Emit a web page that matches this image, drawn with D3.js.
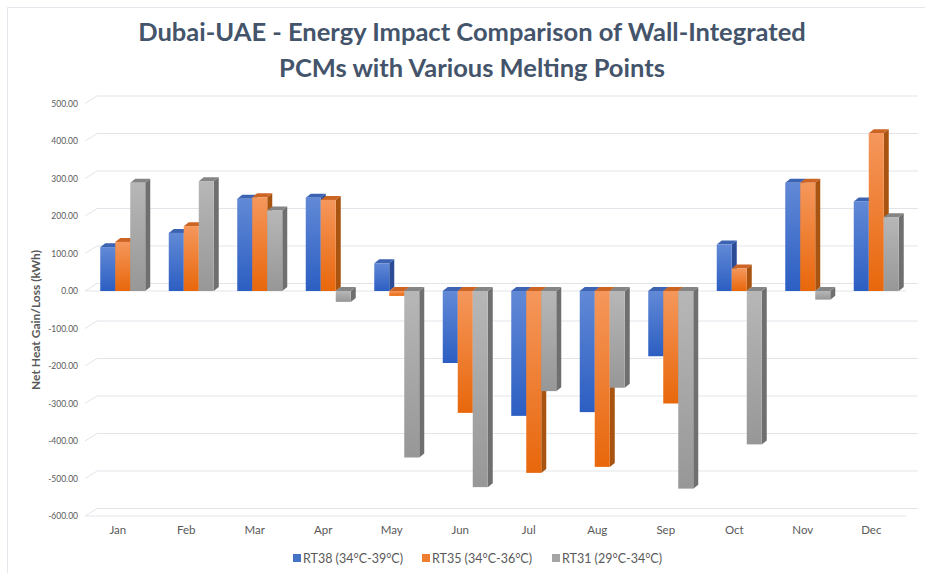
<!DOCTYPE html>
<html>
<head>
  <meta charset="utf-8">
  <script src="https://d3js.org/d3.v7.min.js"></script>
  <style>
    body { margin: 0; background: #fff; }
    svg { display: block; font-family: Lato, "Open Sans", sans-serif; }
    .tick text { fill: #595959; }
  </style>
</head>
<body>
  <svg id="chart" width="925" height="573"></svg>
  <script>
    // 数据
    var months = ["Jan", "Feb", "Mar", "Apr", "May", "Jun", "Jul", "Aug", "Sep", "Oct", "Nov", "Dec"];
    var seriesNames = ["RT38 (34°C-39°C)", "RT35 (34°C-36°C)", "RT31 (29°C-34°C)"];
    var rt38 = [117, 155, 246, 249, 74, -192, -333, -323, -174, 124, 289, 239];
    var rt35 = [131, 173, 250, 243, -13, -325, -485, -469, -300, 60, 289, 421];
    var rt31 = [289, 293, 215, -29, -444, -523, -267, -258, -527, -409, -23, 197];
    var yTicks = [500, 400, 300, 200, 100, 0, -100, -200, -300, -400, -500, -600];

    var series = [rt38, rt35, rt31];
    // 颜色: 正面渐变(上,下), 顶面, 侧面, 图例
    var colors = [
      { top: "#6189d6", bottom: "#2c5ec2", cap: "#3d63b3", side: "#2b4b96", key: "#4472c4" },
      { top: "#f5975c", bottom: "#e8670b", cap: "#cc6524", side: "#a8530f", key: "#ed7d31" },
      { top: "#b7b7b7", bottom: "#979797", cap: "#858585", side: "#6f6f6f", key: "#a5a5a5" }
    ];

    var svg = d3.select("#chart");

    // 外框
    svg.append("path")
      .attr("d", "M7.5,573 V7.5 H925")
      .attr("fill", "none")
      .attr("stroke", "#e3e7eb");

    // 标题
    var title = svg.append("text")
      .attr("text-anchor", "middle")
      .attr("fill", "#44546a")
      .style("font-size", "25.5px")
      .style("font-weight", "bold");
    title.append("tspan").attr("x", 472).attr("y", 41).text("Dubai-UAE - Energy Impact Comparison of Wall-Integrated");
    title.append("tspan").attr("x", 472).attr("y", 77).text("PCMs with Various Melting Points");

    // 比例尺
    var x = d3.scaleBand().domain(months).range([83.5, 905.5]).padding(0);
    var y = d3.scaleLinear().domain([-600, 500]).range([516, 103.5]);

    var backDx = 12, backDy = -7.5;   // 背墙偏移
    var depthDx = 5, depthDy = -4;    // 柱子厚度
    var barW = 15;

    // 网格线
    var grid = svg.append("g").attr("stroke", "#e1e5ea").attr("fill", "none");
    grid.selectAll("path.gl")
      .data(yTicks)
      .enter()
      .append("path")
      .attr("class", "gl")
      .attr("d", function (d) {
        var yy = y(d);
        return "M85," + yy + " L" + (85 + backDx) + "," + (yy + backDy) + " H918";
      });
    // 地板前沿 (0 和 -600)
    [0, -600].forEach(function (v) {
      grid.append("path").attr("d", "M85," + y(v) + " H906");
    });

    // y 轴标签
    var yAxis = svg.append("g")
      .attr("transform", "translate(78,0)")
      .call(d3.axisLeft(y).tickValues(yTicks).tickSize(0).tickPadding(0)
        .tickFormat(function (d) { return d.toFixed(2); }));
    yAxis.select(".domain").remove();
    yAxis.selectAll("text").style("font-size", "8.5px").style("font-family", "Lato, sans-serif");

    // x 轴标签
    var xAxis = svg.append("g")
      .attr("transform", "translate(0,526)")
      .call(d3.axisBottom(x).tickSize(0).tickPadding(0));
    xAxis.select(".domain").remove();
    xAxis.selectAll("text").style("font-size", "11.5px").style("font-family", "Lato, sans-serif");

    // y 轴标题
    svg.append("text")
      .attr("transform", "translate(40,320) rotate(-90)")
      .attr("text-anchor", "middle")
      .attr("fill", "#595959")
      .style("font-size", "12px")
      .style("font-weight", "bold")
      .text("Net Heat Gain/Loss (kWh)");

    // 渐变
    var defs = svg.append("defs");
    colors.forEach(function (c, i) {
      var g = defs.append("linearGradient")
        .attr("id", "grad" + i)
        .attr("x1", 0).attr("y1", 0).attr("x2", 0).attr("y2", 1);
      g.append("stop").attr("offset", "0%").attr("stop-color", c.top);
      g.append("stop").attr("offset", "100%").attr("stop-color", c.bottom);
    });

    // 三维柱子
    var bars = svg.append("g");
    months.forEach(function (m, j) {
      var cx = x(m) + x.bandwidth() / 2 + 5;
      series.forEach(function (s, i) {
        var v = s[j];
        var x0 = cx - 1.5 * barW + i * barW;
        var x1 = x0 + barW;
        var y0 = y(0), yv = y(v);
        var yTop = Math.min(y0, yv), yBot = Math.max(y0, yv);
        var c = colors[i];
        var g = bars.append("g");
        // 侧面
        g.append("path")
          .attr("d", "M" + x1 + "," + yTop + " L" + (x1 + depthDx) + "," + (yTop + depthDy) +
            " L" + (x1 + depthDx) + "," + (yBot + depthDy) + " L" + x1 + "," + yBot + "Z")
          .attr("fill", c.side);
        // 顶面
        g.append("path")
          .attr("d", "M" + x0 + "," + yTop + " L" + (x0 + depthDx) + "," + (yTop + depthDy) +
            " L" + (x1 + depthDx) + "," + (yTop + depthDy) + " L" + x1 + "," + yTop + "Z")
          .attr("fill", c.cap);
        // 正面
        g.append("rect")
          .attr("x", x0)
          .attr("y", yTop)
          .attr("width", barW)
          .attr("height", Math.max(yBot - yTop, 0.5))
          .attr("fill", "url(#grad" + i + ")");
      });
    });

    // 图例
    var legendX = [293, 422, 552];
    var legend = svg.append("g");
    seriesNames.forEach(function (name, i) {
      legend.append("rect")
        .attr("x", legendX[i]).attr("y", 554)
        .attr("width", 8).attr("height", 8)
        .attr("fill", colors[i].key);
      legend.append("text")
        .attr("x", legendX[i] + 10).attr("y", 563)
        .attr("fill", "#595959")
        .style("font-size", "12.5px")
        .text(name);
    });
  </script>
</body>
</html>
